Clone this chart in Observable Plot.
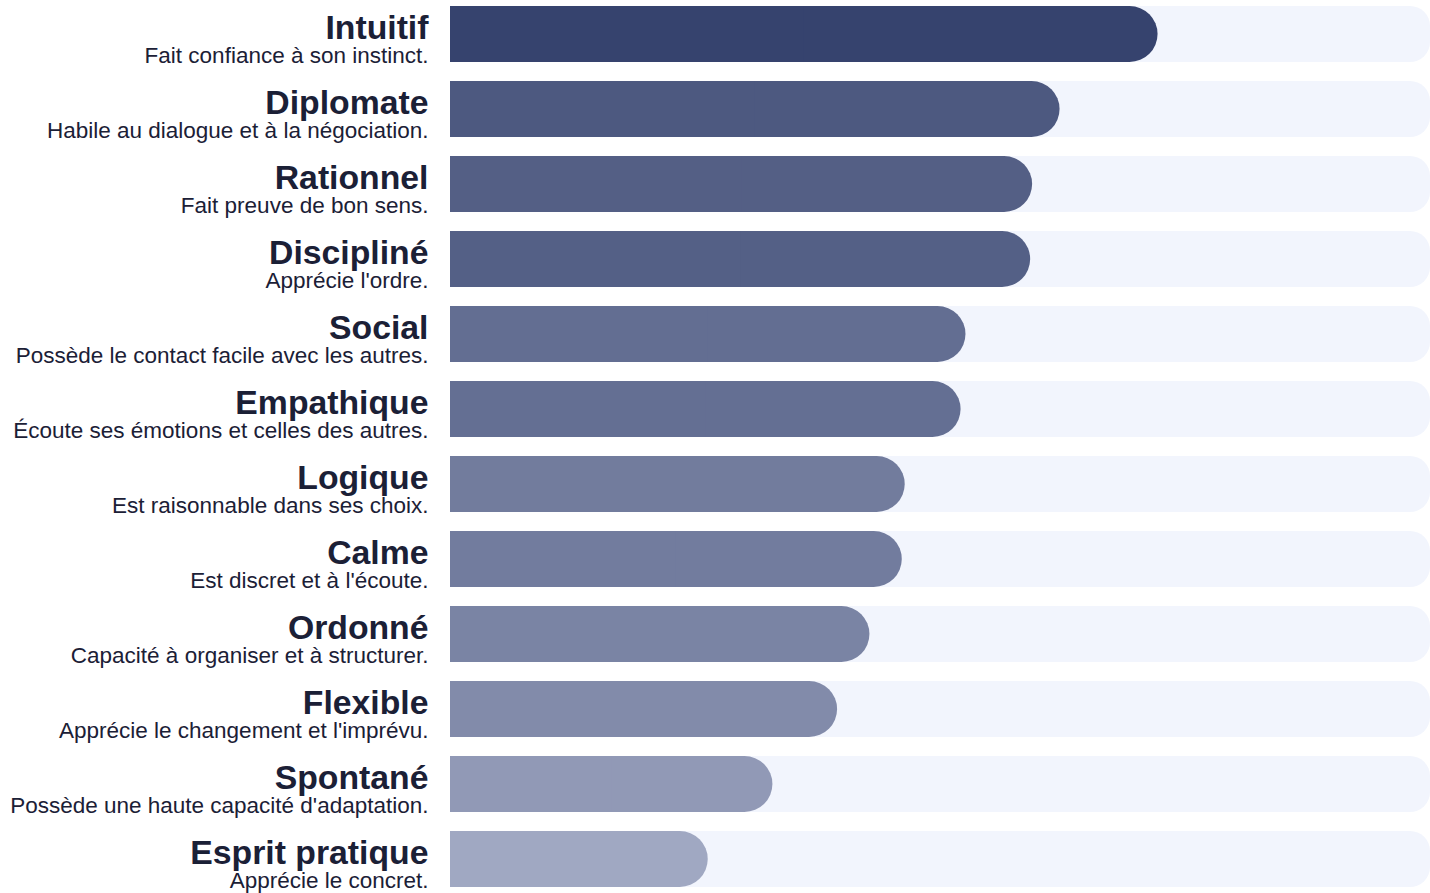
<!DOCTYPE html>
<html>
<head>
<meta charset="utf-8">
<script src="https://cdn.jsdelivr.net/npm/d3@7"></script>
<script src="https://cdn.jsdelivr.net/npm/@observablehq/plot@0.6"></script>
<style>
  html, body { margin: 0; padding: 0; background: #fff; }
  #chart svg { display: block; }
</style>
</head>
<body>
<div id="chart"></div>
<script>
const traits = ["Intuitif", "Diplomate", "Rationnel", "Discipliné", "Social", "Empathique", "Logique", "Calme", "Ordonné", "Flexible", "Spontané", "Esprit pratique"];
const descriptions = [
  "Fait confiance à son instinct.",
  "Habile au dialogue et à la négociation.",
  "Fait preuve de bon sens.",
  "Apprécie l'ordre.",
  "Possède le contact facile avec les autres.",
  "Écoute ses émotions et celles des autres.",
  "Est raisonnable dans ses choix.",
  "Est discret et à l'écoute.",
  "Capacité à organiser et à structurer.",
  "Apprécie le changement et l'imprévu.",
  "Possède une haute capacité d'adaptation.",
  "Apprécie le concret."
];
const scores = [72.2, 62.2, 59.4, 59.2, 52.6, 52.1, 46.4, 46.1, 42.8, 39.5, 32.9, 26.3];
const maxScore = 100;

const data = traits.map((t, i) => ({trait: t, desc: descriptions[i], score: scores[i], max: maxScore}));

const font = "'Liberation Sans', Arial, sans-serif";
const textColor = "#1b2036";

const chart = Plot.plot({
  width: 1430,
  height: 893,
  marginLeft: 450,
  marginRight: 0,
  marginTop: 6,
  marginBottom: 6,
  style: {fontFamily: font, background: "#fff"},
  x: {domain: [0, maxScore], axis: null},
  y: {domain: traits, axis: null, paddingInner: 19 / 75, paddingOuter: 0, round: false},
  color: {type: "linear", domain: [26.3, 72.2], range: ["#a0a8c2", "#36436e"]},
  marks: [
    Plot.barX(data, {y: "trait", x1: 0, x2: "max", fill: "#f2f5fd", rx: 20}),
    Plot.barX(data, {y: "trait", x1: 0, x2: d => d.max / 2, fill: "#f2f5fd"}),
    Plot.barX(data, {y: "trait", x1: 0, x2: "score", fill: "score", rx: 28}),
    Plot.barX(data, {y: "trait", x1: 0, x2: d => d.score / 2, fill: "score"}),
    Plot.text(data, {y: "trait", frameAnchor: "left", text: "trait", textAnchor: "end", lineAnchor: "bottom", dx: -22, dy: 4, fontSize: 33.75, fontWeight: "bold", fill: textColor}),
    Plot.text(data, {y: "trait", frameAnchor: "left", text: "desc", textAnchor: "end", lineAnchor: "bottom", dx: -22, dy: 28, fontSize: 22.5, fill: textColor})
  ]
});
document.getElementById("chart").appendChild(chart);
</script>
</body>
</html>
